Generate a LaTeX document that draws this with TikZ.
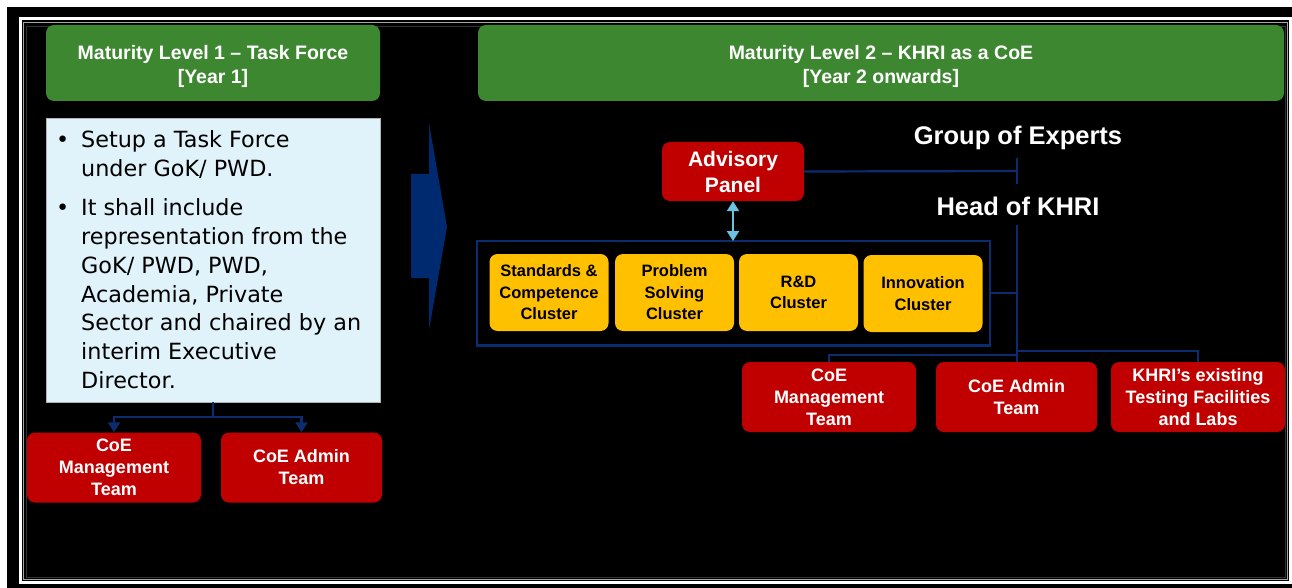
\documentclass[tikz,border=0pt]{standalone}
\usepackage{fontspec}
\setmainfont{Liberation Sans}
\newfontfamily\bulletfont{DejaVu Sans}
\usepackage{tikz}
\usetikzlibrary{arrows.meta, positioning}
\usepackage{xcolor}
\definecolor{levelgreen}{HTML}{3E8731}
\definecolor{teamred}{HTML}{C00000}
\definecolor{clusteryellow}{HTML}{FFC000}
\definecolor{navyline}{HTML}{0B2C6E}
\definecolor{arrownavy}{HTML}{002A70}
\definecolor{panelblue}{HTML}{E0F2FA}
\definecolor{linkblue}{HTML}{6BC3E3}

\begin{document}
\begin{tikzpicture}[x=1pt, y=-1pt,
		levelbox/.style={fill=levelgreen, rounded corners=8pt, inner sep=0pt, minimum height=76pt},
		leveltitle/.style={inner sep=0pt, text=white, align=center, font=\bfseries\fontsize{19.5}{24}\selectfont},
		teambox/.style={fill=teamred, rounded corners=8pt, inner sep=0pt, text=white, align=center,
			minimum height=70pt, font=\bfseries\fontsize{18}{22}\selectfont},
		clusterbox/.style={fill=clusteryellow, rounded corners=8pt, inner sep=0pt, align=center,
			minimum width=119pt, minimum height=77pt, font=\bfseries\fontsize{16.5}{21.5}\selectfont},
		headlabel/.style={text=white, inner sep=0pt, font=\bfseries\fontsize{25.5}{30}\selectfont},
		link/.style={navyline, line width=2.2pt}]
				\useasboundingbox (0,0) rectangle (1292,588);
				% page frame
				\fill[white] (0,0) rectangle (1292,588);
				\fill[black] (7,7) rectangle (1292,588);
				\draw[white, line width=3pt] (20.5,19) rectangle (1290.5,582.5);
				\draw[gray!70, line width=0.8pt] (23,22.5) rectangle (1287.5,579);
				\draw[gray!40!black, line width=0.8pt] (26,26) rectangle (1285,577);
				% maturity level 1
				\node[levelbox, minimum width=334pt] (level1) at (213,63) {};
				\node[leveltitle] (level1title) at (213,66) {Maturity Level 1 – Task Force\\{}[Year 1]};
				\node[fill=panelblue, draw=gray!60, line width=0.5pt, minimum width=334pt, minimum height=284pt] (task) at (213,260) {};
				\node[anchor=north west, inner sep=0pt, align=left, font=\bulletfont\fontsize{22.3}{28.9}\selectfont] (tasktext) at (81,130)
					{\llap{•\hspace{12pt}}Setup a Task Force\\under GoK/ PWD.\\[10.4pt]
					\llap{•\hspace{12pt}}It shall include\\representation from the\\GoK/ PWD, PWD,\\Academia, Private\\Sector and chaired by an\\interim Executive\\Director.};
				\node[teambox, minimum width=174pt] (mgmt1) at (114,467.5) {CoE\\Management\\Team};
				\node[teambox, minimum width=161pt] (admin1) at (301.5,467.5) {CoE Admin\\Team};
				\coordinate (split1) at (213,417);
				\draw[link] (task.south) -- (split1);
				\draw[link, -{Triangle[length=10pt, width=12pt]}] (split1) -| (mgmt1.north);
				\draw[link, -{Triangle[length=10pt, width=12pt]}] (split1) -| (admin1.north);
				% big arrow
				\fill[arrownavy] (411,174) -- (429,174) -- (429,123) -- (447,227) -- (429,330) -- (429,278) -- (411,278) -- cycle;
				% maturity level 2
				\node[levelbox, minimum width=806pt] (level2) at (881,63) {};
				\node[leveltitle] (level2title) at (881,66) {Maturity Level 2 – KHRI as a CoE\\{}[Year 2 onwards]};
				\node[teambox, minimum width=142pt, minimum height=59pt, font=\bfseries\fontsize{21}{26}\selectfont] (advisory) at (733,171.5) {Advisory\\Panel};
				\node[headlabel] (experts) at (1018,138) {Group of Experts};
				\node[headlabel] (head) at (1018,206) {Head of KHRI};
				\draw[navyline, line width=2.5pt] (477,241) rectangle (990,345.5);
				\coordinate (container) at (733,241);
				\coordinate (containerright) at (990,293);
				\node[clusterbox] (standards) at (549,292.5) {Standards \&\\Competence\\Cluster};
				\node[clusterbox] (problem) at (674.5,292.5) {Problem\\Solving\\Cluster};
				\node[clusterbox] (rnd) at (798.5,292.5) {R\&D\\Cluster};
				\node[clusterbox] (innovation) at (923,293.5) {Innovation\\Cluster};
				\draw[linkblue, line width=2.2pt, {Triangle[length=10pt, width=12pt]}-{Triangle[length=10pt, width=12pt]}] (advisory.south) -- (container);
				\node[teambox, minimum width=174pt] (mgmt2) at (829,397) {CoE\\Management\\Team};
				\node[teambox, minimum width=161pt] (admin2) at (1016.5,397) {CoE Admin\\Team};
				\node[teambox, minimum width=174pt] (labs) at (1198,397) {KHRI’s existing\\Testing Facilities\\and Labs};
				\coordinate (tick) at (1017,171);
				\coordinate (headfoot) at (1017,225);
				\coordinate (trunk) at (1017,293);
				\draw[link] (advisory.east) -- (tick);
				\draw[link] (1017,158) -- (1017,184);
				\draw[link] (headfoot) -- (admin2.north -| headfoot);
				\draw[link] (containerright) -- (trunk);
				\draw[link] (1017,355) -| (mgmt2.north);
				\draw[link] (1017,351) -| (labs.north);
			\end{tikzpicture}
\end{document}
